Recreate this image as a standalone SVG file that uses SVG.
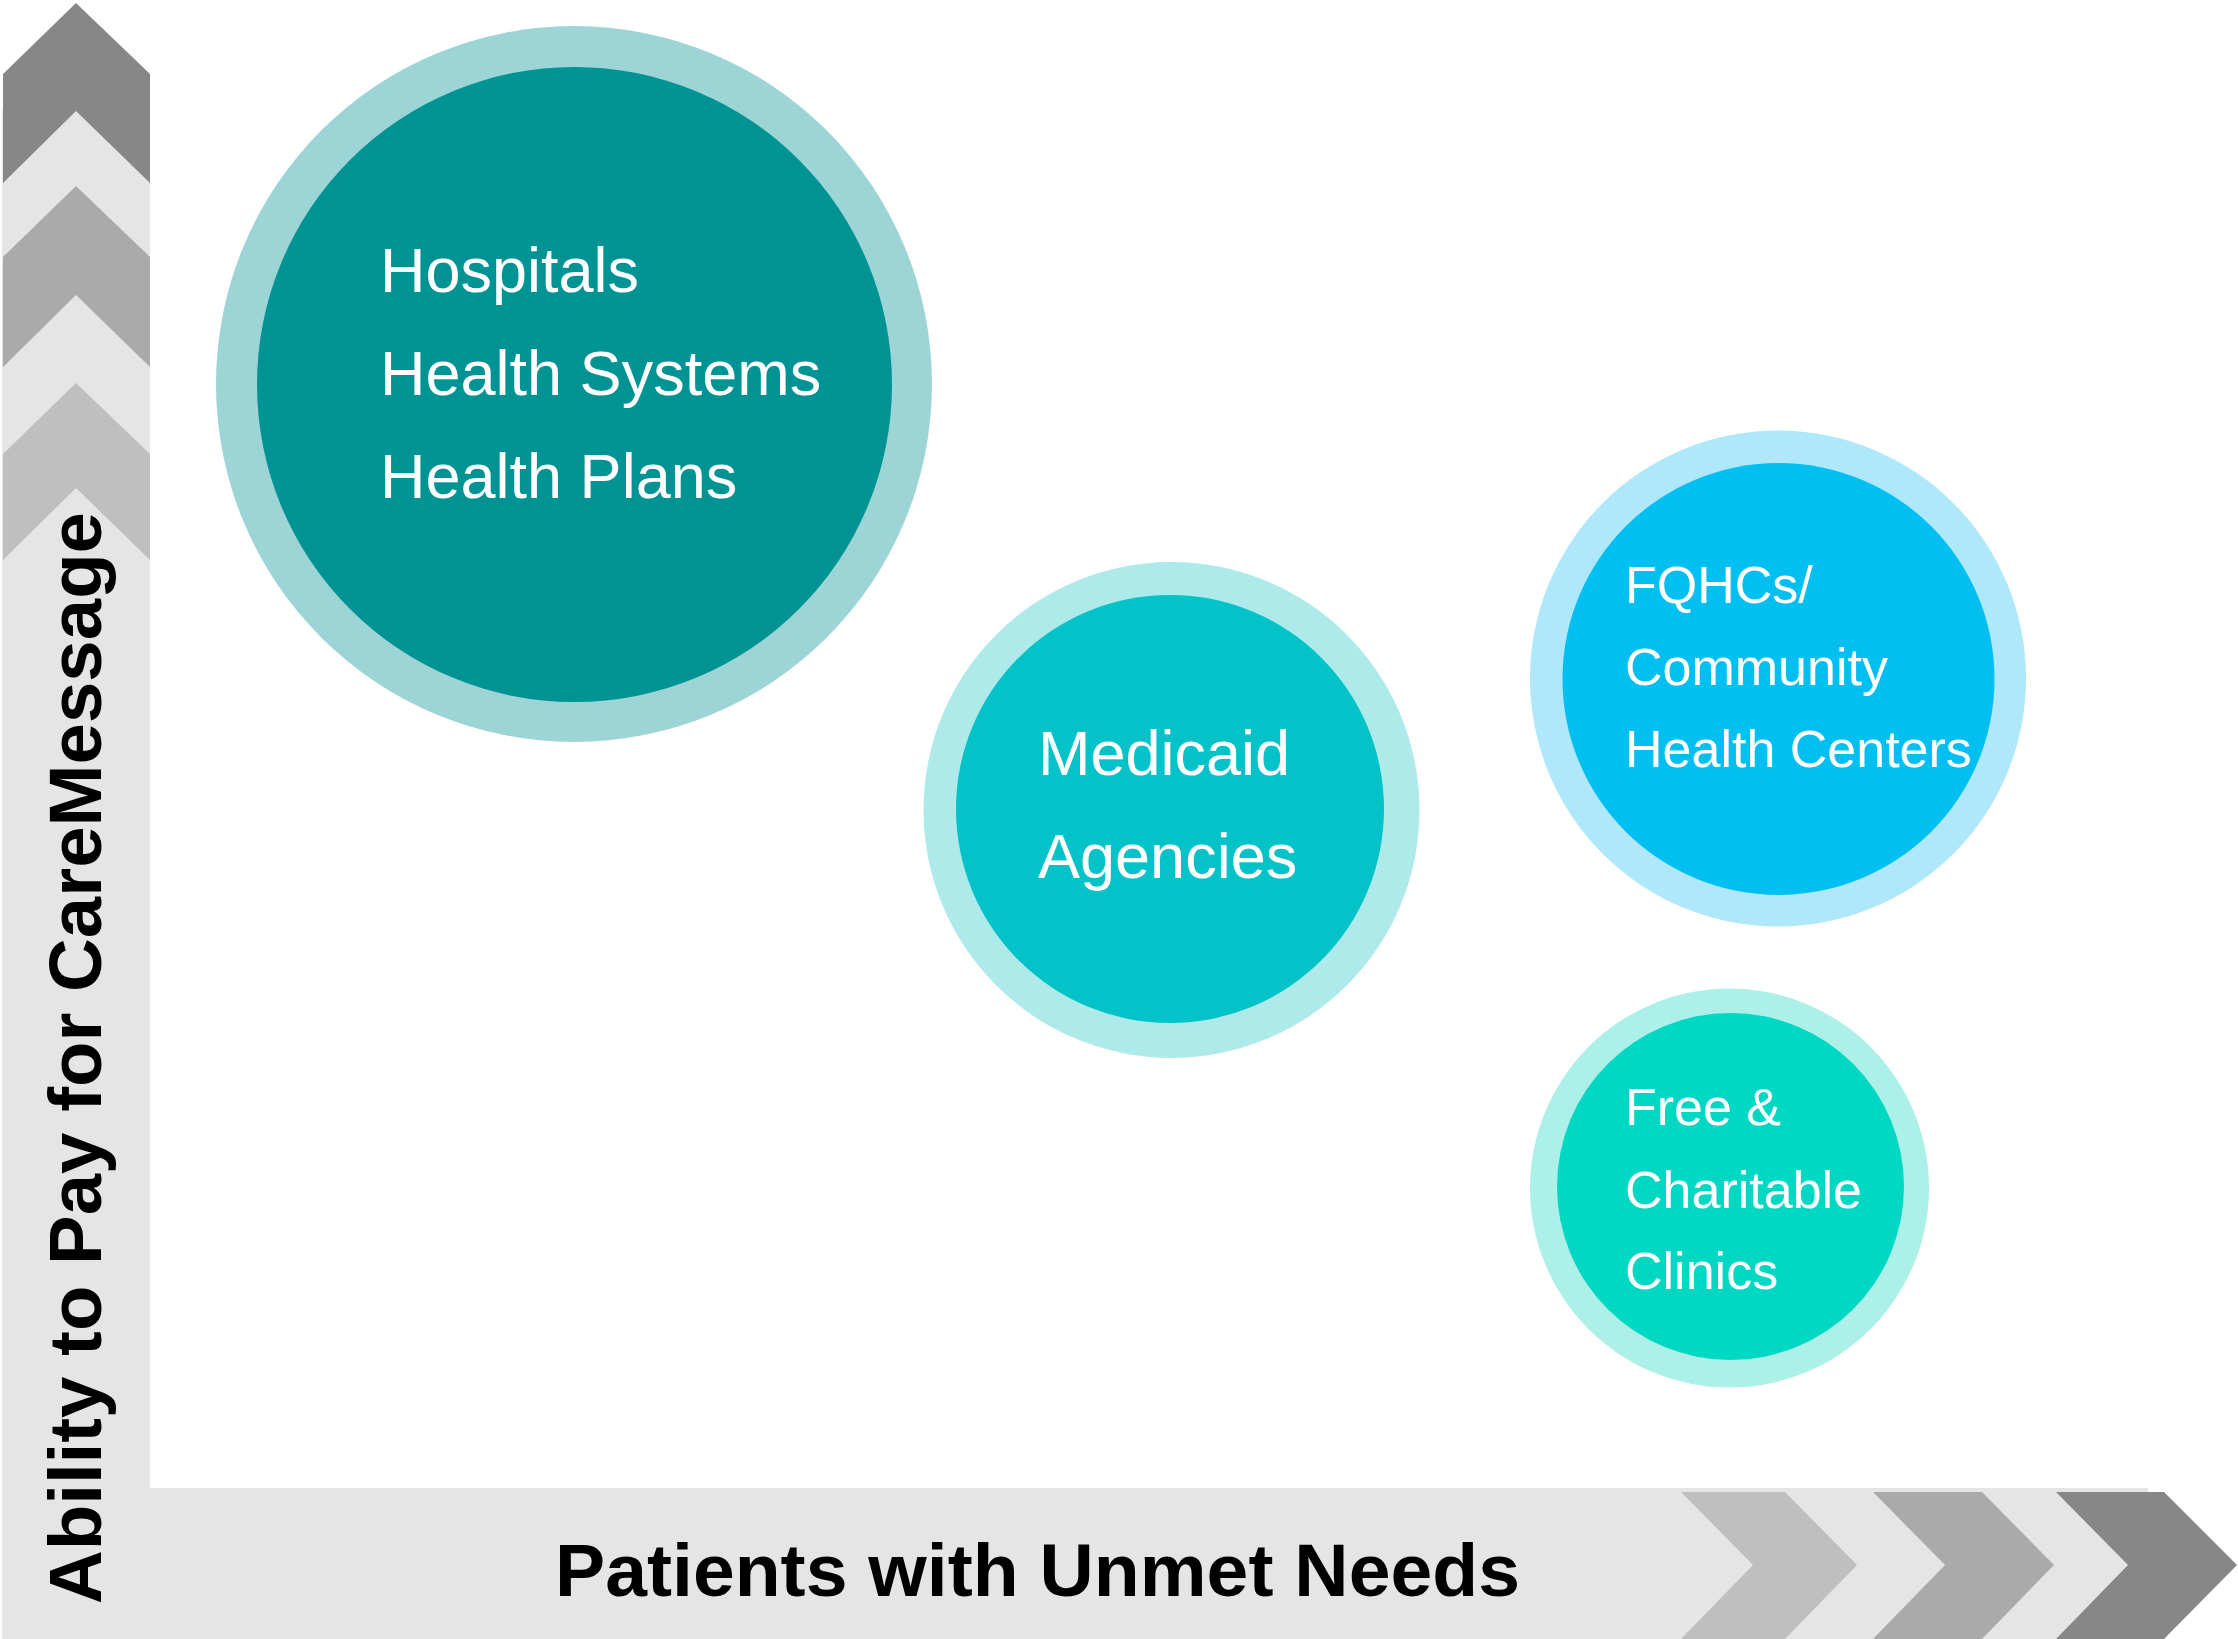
<svg xmlns="http://www.w3.org/2000/svg" width="2238" height="1639" viewBox="0 0 2238 1639">
  <style>
    .bar { fill: #e5e5e5; }
    .c-dark { fill: #878787; }
    .c-mid { fill: #aaaaaa; }
    .c-light { fill: #bfbfbf; }
    .axis-label { font-family: "Liberation Sans", Arial, sans-serif; font-weight: bold; font-size: 75px; fill: #000000; }
    .lbl { font-family: "Liberation Sans", Arial, sans-serif; fill: #ffffff; }
    .lbl-lg { font-size: 63px; }
    .lbl-sm { font-size: 52px; }
  </style>
  <rect width="2238" height="1639" fill="#ffffff"/>

  <!-- Axes: vertical and horizontal arrow bands with chevrons -->
  <g id="axes">
    <g id="y-axis-band">
      <rect class="bar" x="2" y="110" width="148" height="1529"/>
      <polygon class="c-dark" points="3,74 76,3 150,74 150,183 76,111 3,183"/>
      <polygon class="c-mid" points="3,257 76,186 150,257 150,367 76,295 3,367"/>
      <polygon class="c-light" points="3,454 76,383 150,454 150,560 76,488 3,560"/>
    </g>
    <g id="x-axis-band">
      <rect class="bar" x="2" y="1488" width="2146" height="151"/>
      <polygon class="c-light" points="1681,1492 1785,1492 1857,1565 1785,1639 1681,1639 1753,1565"/>
      <polygon class="c-mid" points="1873,1492 1982,1492 2054,1565 1982,1639 1873,1639 1945,1565"/>
      <polygon class="c-dark" points="2056,1492 2164,1492 2237,1565 2164,1639 2056,1639 2128,1565"/>
    </g>
    <text id="y-axis-label" class="axis-label" transform="translate(101,1604) rotate(-90)" textLength="1092" lengthAdjust="spacingAndGlyphs">Ability to Pay for CareMessage</text>
    <text id="x-axis-label" class="axis-label" x="555" y="1596" textLength="965" lengthAdjust="spacingAndGlyphs">Patients with Unmet Needs</text>
  </g>

  <!-- Segment bubbles -->
  <g id="hospitals">
    <circle cx="574" cy="384" r="358" fill="#9dd5d6"/>
    <circle cx="574.5" cy="384.5" r="317.5" fill="#009393"/>
    <text class="lbl lbl-lg" x="380" y="292">Hospitals</text>
    <text class="lbl lbl-lg" x="380" y="395">Health Systems</text>
    <text class="lbl lbl-lg" x="380" y="498">Health Plans</text>
  </g>

  <g id="medicaid">
    <circle cx="1171.5" cy="810" r="248" fill="#aeeaea"/>
    <circle cx="1170" cy="809" r="214" fill="#03c3c8"/>
    <text class="lbl lbl-lg" x="1038" y="775">Medicaid</text>
    <text class="lbl lbl-lg" x="1038" y="878">Agencies</text>
  </g>

  <g id="fqhc">
    <circle cx="1778" cy="678.5" r="248" fill="#aee8fa"/>
    <circle cx="1778.5" cy="679" r="216" fill="#02bff2"/>
    <text class="lbl lbl-sm" x="1625" y="603">FQHCs/</text>
    <text class="lbl lbl-sm" x="1625" y="685">Community</text>
    <text class="lbl lbl-sm" x="1625" y="767">Health Centers</text>
  </g>

  <g id="free-clinics">
    <circle cx="1729.5" cy="1188" r="199.5" fill="#adf0e8"/>
    <circle cx="1730.5" cy="1186.5" r="173.5" fill="#00d8c4"/>
    <text class="lbl lbl-sm" x="1625" y="1125">Free &amp;</text>
    <text class="lbl lbl-sm" x="1625" y="1208">Charitable</text>
    <text class="lbl lbl-sm" x="1625" y="1289">Clinics</text>
  </g>
</svg>
